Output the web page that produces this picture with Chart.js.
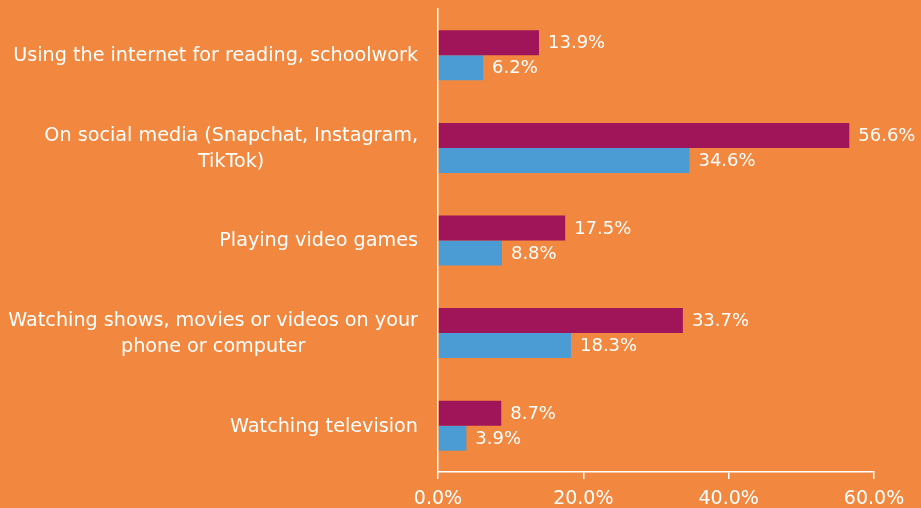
<!DOCTYPE html>
<html>
<head>
<meta charset="utf-8">
<script src="https://cdn.jsdelivr.net/npm/chart.js@4.4.1/dist/chart.umd.min.js"></script>
<style>
  html, body { margin: 0; padding: 0; background: #F2883F; }
  #wrap { width: 921px; height: 508px; position: relative; }
</style>
</head>
<body>
<div id="wrap"><canvas id="c"></canvas></div>
<script>
'use strict';

/* ── Data ───────────────────────────────────────────── */
const categories = [
  ['Using the internet for reading, schoolwork'],
  ['On social media (Snapchat, Instagram,', 'TikTok)'],
  ['Playing video games'],
  ['Watching shows, movies or videos on your', 'phone or computer'],
  ['Watching television']
];
const seriesNames = ['Series 1', 'Series 2'];
const seriesA = [13.9, 56.6, 17.5, 33.7, 8.7];
const seriesB = [6.2, 34.6, 8.8, 18.3, 3.9];
const xTicks = [0, 20, 40, 60];

const FONT = '"DejaVu Sans", sans-serif';
const WHITE = '#FFFFFF';

/* ── Value labels at bar ends ───────────────────────── */
const valueLabels = {
  id: 'valueLabels',
  afterDatasetsDraw(chart) {
    const ctx = chart.ctx;
    ctx.save();
    ctx.fillStyle = WHITE;
    ctx.font = '18px ' + FONT;
    ctx.textAlign = 'left';
    ctx.textBaseline = 'middle';
    chart.data.datasets.forEach((ds, di) => {
      chart.getDatasetMeta(di).data.forEach((bar, i) => {
        ctx.fillText(ds.data[i].toFixed(1) + '%', bar.x + 9, bar.y + 1);
      });
    });
    ctx.restore();
  }
};

/* ── Category labels (right aligned block, centred lines) ── */
const catLabels = {
  id: 'catLabels',
  afterDraw(chart) {
    const ctx = chart.ctx;
    const y = chart.scales.y;
    const right = chart.chartArea.left - 20;
    const lh = 26;
    ctx.save();
    ctx.fillStyle = WHITE;
    ctx.font = '19.2px ' + FONT;
    ctx.textAlign = 'center';
    ctx.textBaseline = 'middle';
    categories.forEach((lines, i) => {
      const cy = y.getPixelForTick(i);
      const w = Math.max(...lines.map(l => ctx.measureText(l).width));
      const cx = right - w / 2;
      const y0 = cy - (lines.length - 1) * lh / 2;
      lines.forEach((l, k) => ctx.fillText(l, cx, y0 + k * lh + 1));
    });
    ctx.restore();
  }
};

/* ── Chart ──────────────────────────────────────────── */
new Chart(document.getElementById('c'), {
  type: 'bar',
  data: {
    labels: categories.map(l => l.join(' ')),
    datasets: [
      { label: seriesNames[0], data: seriesA, backgroundColor: '#A0145A', borderWidth: 0 },
      { label: seriesNames[1], data: seriesB, backgroundColor: '#4B9BD5', borderWidth: 0 }
    ]
  },
  options: {
    indexAxis: 'y',
    responsive: true,
    maintainAspectRatio: false,
    animation: false,
    layout: { padding: { left: 0, right: 47, top: 9, bottom: 0 } },
    categoryPercentage: 0.54,
    barPercentage: 1,
    plugins: {
      legend: { display: false },
      tooltip: { enabled: false }
    },
    scales: {
      x: {
        min: 0,
        max: 60,
        afterBuildTicks: s => { s.ticks = xTicks.map(v => ({ value: v })); },
        afterFit: s => { s.height = 36; },
        grid: { display: true, drawOnChartArea: false, drawTicks: true, tickLength: 7, color: WHITE, lineWidth: 1.5 },
        border: { display: true, color: WHITE, width: 1.5 },
        ticks: {
          color: WHITE,
          font: { family: FONT, size: 19 },
          padding: 9,
          callback: v => v.toFixed(1) + '%'
        }
      },
      y: {
        afterFit: s => { s.width = 438; },
        grid: { display: false },
        border: { display: true, color: WHITE, width: 1.5 },
        ticks: { display: false }
      }
    }
  },
  plugins: [valueLabels, catLabels]
});
</script>
</body>
</html>
